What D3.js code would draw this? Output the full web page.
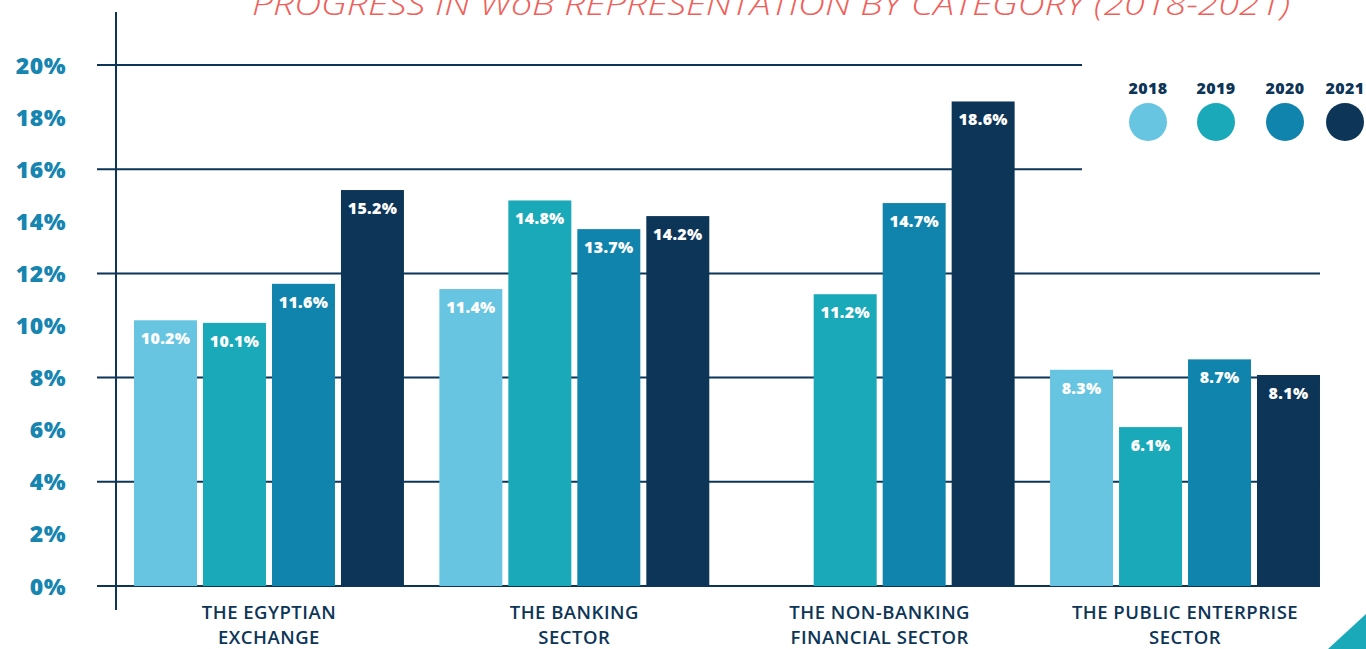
<!DOCTYPE html>
<html lang="en">
<head>
  <meta charset="UTF-8">
  <title>Progress in WoB representation by category</title>
  <style>
    body { margin: 0; background: #fff; }
    svg { display: block; }
    .ytick text { font-family: "Open Sans", sans-serif; font-weight: 800; font-size: 23px; letter-spacing: 0.5px; fill: #1685b0; }
    .cat text { font-family: "Open Sans", sans-serif; font-weight: 600; font-size: 18.5px; letter-spacing: 0.5px; fill: #0d3557; }
    .val { font-family: "Open Sans", sans-serif; font-weight: 800; font-size: 16px; letter-spacing: 0.3px; fill: #fff; }
    .legend text { font-family: "Open Sans", sans-serif; font-weight: 800; font-size: 16px; letter-spacing: 0.4px; fill: #0d3557; }
  </style>
</head>
<body>
  <svg id="chart" width="1366" height="649"></svg>
  <script src="https://d3js.org/d3.v7.min.js"></script>
  <script>
    // data
    const categories = ['THE EGYPTIAN|EXCHANGE', 'THE BANKING|SECTOR', 'THE NON-BANKING|FINANCIAL SECTOR', 'THE PUBLIC ENTERPRISE|SECTOR'];
    const years = ['2018', '2019', '2020', '2021'];
    const v2018 = [10.2, 11.4, null, 8.3];
    const v2019 = [10.1, 14.8, 11.2, 6.1];
    const v2020 = [11.6, 13.7, 14.7, 8.7];
    const v2021 = [15.2, 14.2, 18.6, 8.1];
    const yTicks = [0, 2, 4, 6, 8, 10, 12, 14, 16, 18, 20];
    const gridTicks = [0, 4, 8, 12, 16, 20];
    const colors = ['#67c5e2', '#1aa9b8', '#1184ae', '#0d3557'];
    const title = 'PROGRESS IN WoB REPRESENTATION BY CATEGORY (2018-2021)';

    const series = [v2018, v2019, v2020, v2021];
    const svg = d3.select('#chart');

    const scaleY = d3.scaleLinear().domain([0, 20]).range([586, 65]);
    const scaleX = d3.scaleBand().domain(categories).range([116, 1338]).paddingInner(0.116).paddingOuter(0.059);
    const scaleInner = d3.scaleBand().domain(years).range([0, scaleX.bandwidth()]).paddingInner(0.087);

    // title, clipped at the top like the original
    svg.append('text')
      .attr('x', 252).attr('y', 15)
      .attr('textLength', 1038)
      .attr('lengthAdjust', 'spacingAndGlyphs')
      .style('font-family', '"Open Sans", sans-serif')
      .style('font-weight', 300)
      .style('font-style', 'italic')
      .style('font-size', '31px')
      .style('fill', '#f0605a')
      .text(title);

    // grid lines (the two top ones stop before the legend)
    svg.append('g').selectAll('line')
      .data(gridTicks)
      .join('line')
      .attr('x1', 97)
      .attr('x2', d => d >= 16 ? 1082 : 1320)
      .attr('y1', d => scaleY(d))
      .attr('y2', d => scaleY(d))
      .attr('stroke', '#0d3557')
      .attr('stroke-width', 2);

    // y axis labels
    const yAxis = d3.axisLeft(scaleY).tickValues(yTicks).tickFormat(d => d + '%').tickSize(0).tickPadding(0);
    svg.append('g')
      .attr('class', 'ytick')
      .attr('transform', 'translate(66,0)')
      .call(yAxis)
      .call(g => g.select('.domain').remove())
      .selectAll('text').attr('dy', '0.35em');

    // vertical axis line
    svg.append('line')
      .attr('x1', 116).attr('x2', 116).attr('y1', 12).attr('y2', 610)
      .attr('stroke', '#0d3557').attr('stroke-width', 2);

    // bars
    const rows = [];
    categories.forEach((c, i) => {
      years.forEach((y, j) => {
        if (series[j][i] != null) rows.push({ cat: c, year: y, value: series[j][i], k: j });
      });
    });

    const bars = svg.append('g');
    bars.selectAll('rect')
      .data(rows)
      .join('rect')
      .attr('x', d => scaleX(d.cat) + scaleInner(d.year))
      .attr('width', scaleInner.bandwidth())
      .attr('y', d => scaleY(d.value))
      .attr('height', d => scaleY(0) - scaleY(d.value))
      .attr('fill', d => colors[d.k]);

    bars.selectAll('text')
      .data(rows)
      .join('text')
      .attr('class', 'val')
      .attr('text-anchor', 'middle')
      .attr('x', d => scaleX(d.cat) + scaleInner(d.year) + scaleInner.bandwidth() / 2)
      .attr('y', d => scaleY(d.value) + 24)
      .text(d => d.value.toFixed(1) + '%');

    // category labels
    const cat = svg.append('g').attr('class', 'cat').selectAll('text')
      .data(categories)
      .join('text')
      .attr('text-anchor', 'middle')
      .attr('x', d => scaleX(d) + scaleX.bandwidth() / 2);
    cat.selectAll('tspan')
      .data(d => d.split('|'))
      .join('tspan')
      .attr('x', function () { return d3.select(this.parentNode).attr('x'); })
      .attr('y', (d, i) => 619 + i * 25)
      .text(d => d);

    // legend
    const legendX = [1148, 1216, 1285, 1345];
    const legend = svg.append('g').attr('class', 'legend').selectAll('g')
      .data(years)
      .join('g')
      .attr('transform', (d, i) => `translate(${legendX[i]},0)`);
    legend.append('text').attr('text-anchor', 'middle').attr('y', 94).text(d => d);
    legend.append('circle').attr('cy', 122).attr('r', 19).attr('fill', (d, i) => colors[i]);

    // corner decoration
    svg.append('path')
      .attr('d', 'M1328,649L1366,614L1366,649Z')
      .attr('fill', '#1aa9b8');
  </script>
</body>
</html>
